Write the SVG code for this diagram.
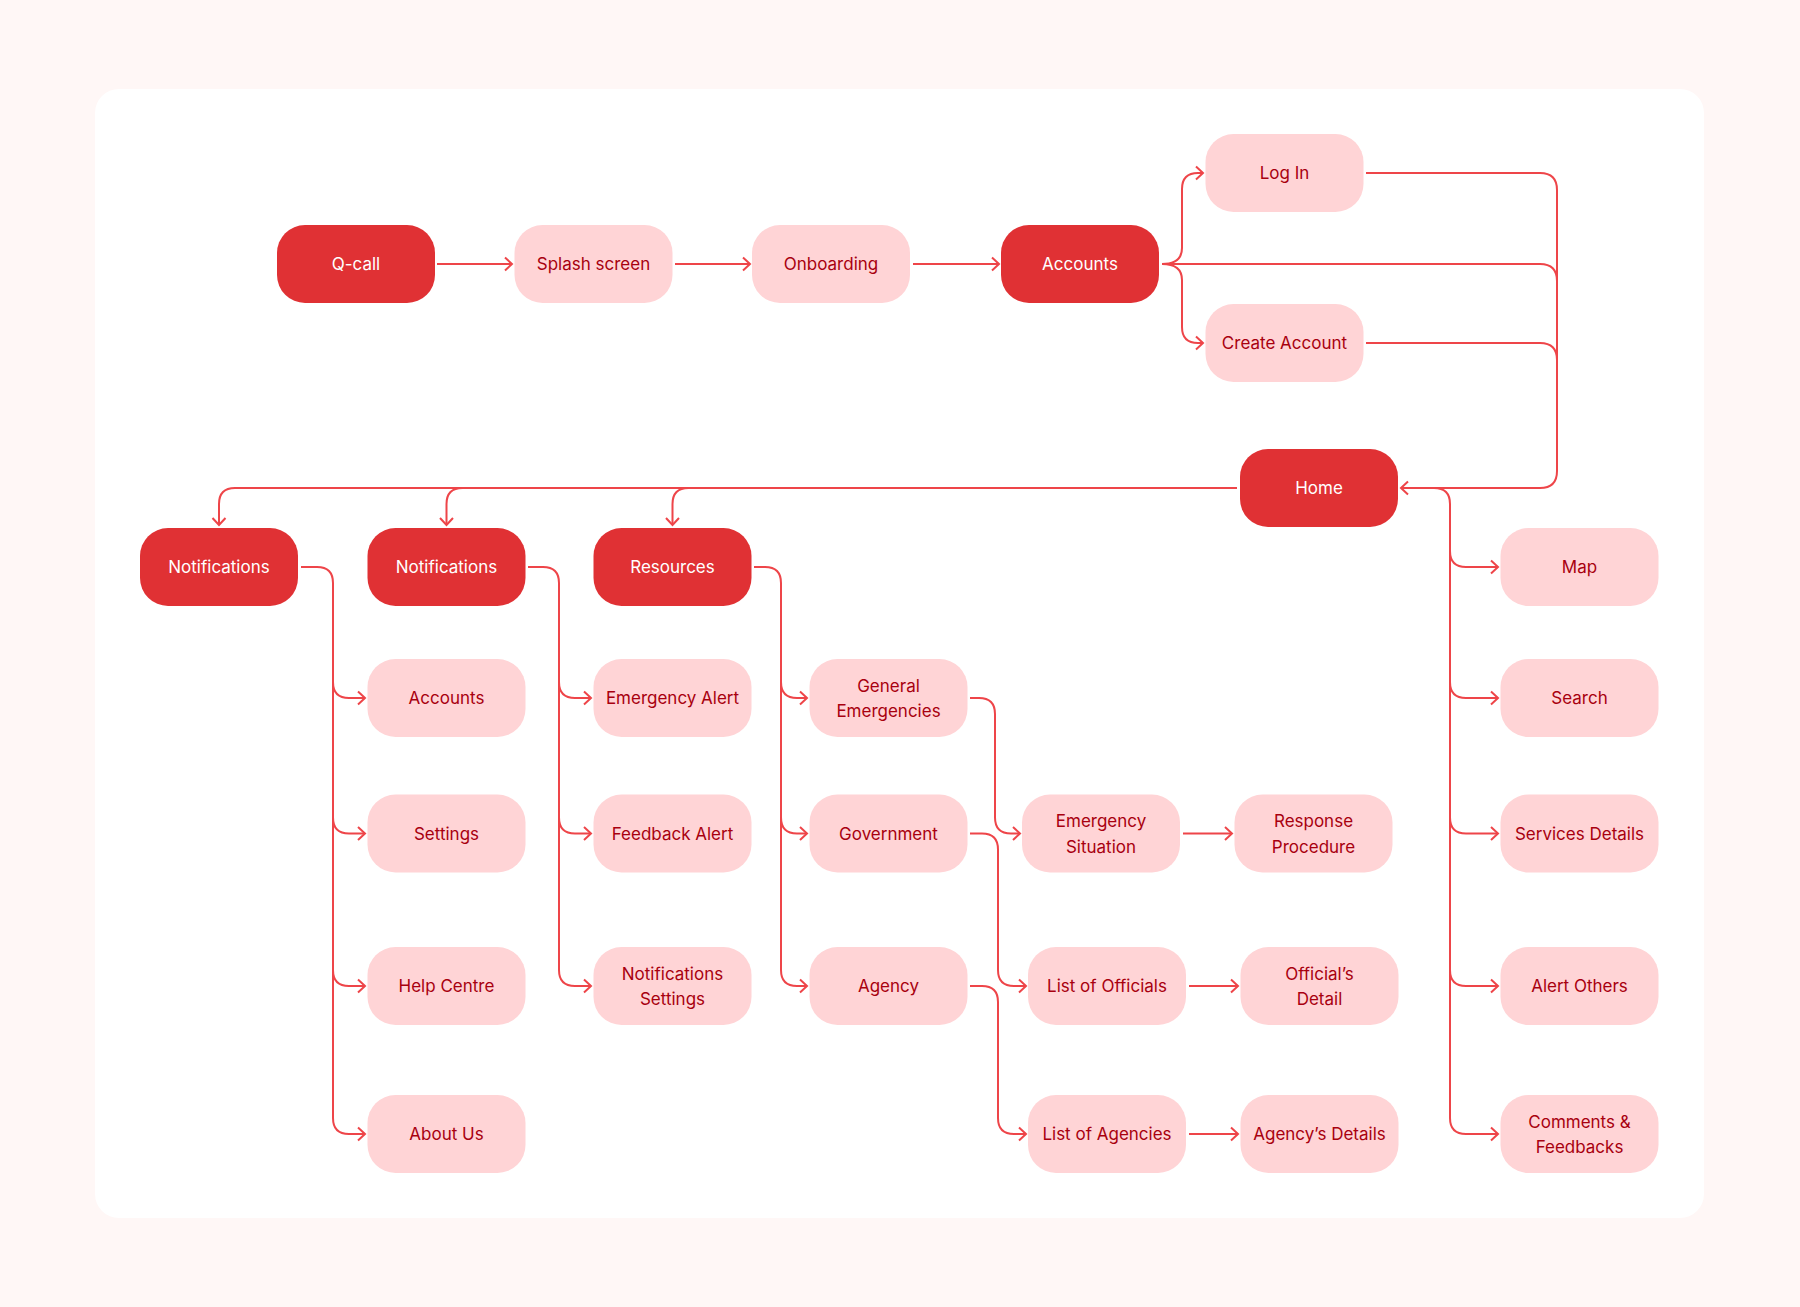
<svg xmlns="http://www.w3.org/2000/svg" width="1800" height="1307" viewBox="0 0 1800 1307">
<style>
.bg{fill:#FFF7F6}
.panel{fill:#FFFFFF}
.dark rect{fill:#E03134}
.light rect{fill:#FFD4D6}
text{font-family:Inter,"Liberation Sans",sans-serif;font-size:17px;font-weight:400;text-anchor:middle;dominant-baseline:central}
.dark text{fill:#FFFFFF}
.light text{fill:#A8000F}
.conn path{fill:none;stroke:#EE4549;stroke-width:2;marker-end:url(#arr)}
.conn path.nm{marker-end:none}
</style>
<defs>
<marker id="arr" markerUnits="userSpaceOnUse" markerWidth="14" markerHeight="16" refX="9" refY="8" orient="auto">
<path d="M2,1.5 L9,8 L2,14.5" fill="none" stroke="#EE4549" stroke-width="2"/>
</marker>
</defs>
<rect class="bg" x="0" y="0" width="1800" height="1307"/>
<rect class="panel" x="95" y="89" width="1609" height="1129" rx="24"/>

<g id="connectors" class="conn">
<path d="M437,264 H512"/>
<path d="M675,264 H750"/>
<path d="M913,264 H999"/>
<path d="M1162,264 Q1182,264 1182,248 V189 Q1182,173 1198,173 H1203"/>
<path d="M1162,264 Q1182,264 1182,280 V327 Q1182,343 1198,343 H1203"/>
<path class="nm" d="M1162,264 H1540 Q1557,264 1557,281"/>
<path class="nm" d="M1366,343 H1540 Q1557,343 1557,360"/>
<path d="M1366,173 H1540 Q1557,173 1557,190 V471 Q1557,488 1540,488 H1401"/>
<path d="M1237,488 H235 Q219,488 219,504 V525"/>
<path d="M462.5,488 Q446.5,488 446.5,504 V525"/>
<path d="M688.5,488 Q672.5,488 672.5,504 V525"/>
<path d="M1401,488 H1434 Q1450,488 1450,504 V1118 Q1450,1134 1466,1134 H1498"/>
<path d="M1450,551 Q1450,567 1466,567 H1498"/>
<path d="M1450,682 Q1450,698 1466,698 H1498"/>
<path d="M1450,817.5 Q1450,833.5 1466,833.5 H1498"/>
<path d="M1450,970 Q1450,986 1466,986 H1498"/>
<path d="M301,567 H317 Q333,567 333,583 V1118 Q333,1134 349,1134 H365"/>
<path d="M333,682 Q333,698 349,698 H365"/>
<path d="M333,817.5 Q333,833.5 349,833.5 H365"/>
<path d="M333,970 Q333,986 349,986 H365"/>
<path d="M528,567 H543 Q559,567 559,583 V970 Q559,986 575,986 H591"/>
<path d="M559,682 Q559,698 575,698 H591"/>
<path d="M559,817.5 Q559,833.5 575,833.5 H591"/>
<path d="M754,567 H765 Q781,567 781,583 V970 Q781,986 797,986 H807"/>
<path d="M781,682 Q781,698 797,698 H807"/>
<path d="M781,817.5 Q781,833.5 797,833.5 H807"/>
<path d="M970,698 H979 Q995,698 995,714 V817.5 Q995,833.5 1011,833.5 H1020"/>
<path d="M970,833.5 H982 Q998,833.5 998,849.5 V970 Q998,986 1014,986 H1026"/>
<path d="M970,986 H982 Q998,986 998,1002 V1118 Q998,1134 1014,1134 H1026"/>
<path d="M1183,833.5 H1232"/>
<path d="M1189,986 H1238"/>
<path d="M1189,1134 H1238"/>
</g>

<g id="n-qcall" class="dark"><rect x="277" y="225" width="158" height="78" rx="28"/><text x="356" y="264">Q-call</text></g>
<g id="n-splash" class="light"><rect x="514.5" y="225" width="158" height="78" rx="28"/><text x="593.5" y="264">Splash screen</text></g>
<g id="n-onboarding" class="light"><rect x="752" y="225" width="158" height="78" rx="28"/><text x="831" y="264">Onboarding</text></g>
<g id="n-accounts" class="dark"><rect x="1001" y="225" width="158" height="78" rx="28"/><text x="1080" y="264">Accounts</text></g>
<g id="n-login" class="light"><rect x="1205.5" y="134" width="158" height="78" rx="28"/><text x="1284.5" y="173">Log In</text></g>
<g id="n-create" class="light"><rect x="1205.5" y="304" width="158" height="78" rx="28"/><text x="1284.5" y="343">Create Account</text></g>
<g id="n-home" class="dark"><rect x="1240" y="449" width="158" height="78" rx="28"/><text x="1319" y="488">Home</text></g>

<g id="n-notif1" class="dark"><rect x="140" y="528" width="158" height="78" rx="28"/><text x="219" y="567">Notifications</text></g>
<g id="n-notif2" class="dark"><rect x="367.5" y="528" width="158" height="78" rx="28"/><text x="446.5" y="567">Notifications</text></g>
<g id="n-resources" class="dark"><rect x="593.5" y="528" width="158" height="78" rx="28"/><text x="672.5" y="567">Resources</text></g>

<g id="n-acc2" class="light"><rect x="367.5" y="659" width="158" height="78" rx="28"/><text x="446.5" y="698">Accounts</text></g>
<g id="n-settings" class="light"><rect x="367.5" y="794.5" width="158" height="78" rx="28"/><text x="446.5" y="833.5">Settings</text></g>
<g id="n-help" class="light"><rect x="367.5" y="947" width="158" height="78" rx="28"/><text x="446.5" y="986">Help Centre</text></g>
<g id="n-about" class="light"><rect x="367.5" y="1095" width="158" height="78" rx="28"/><text x="446.5" y="1134">About Us</text></g>

<g id="n-ealert" class="light"><rect x="593.5" y="659" width="158" height="78" rx="28"/><text x="672.5" y="698">Emergency Alert</text></g>
<g id="n-falert" class="light"><rect x="593.5" y="794.5" width="158" height="78" rx="28"/><text x="672.5" y="833.5">Feedback Alert</text></g>
<g id="n-nsettings" class="light"><rect x="593.5" y="947" width="158" height="78" rx="28"/><text x="672.5" y="973.5">Notifications</text><text x="672.5" y="999">Settings</text></g>

<g id="n-genemerg" class="light"><rect x="809.5" y="659" width="158" height="78" rx="28"/><text x="888.5" y="685.5">General</text><text x="888.5" y="711">Emergencies</text></g>
<g id="n-government" class="light"><rect x="809.5" y="794.5" width="158" height="78" rx="28"/><text x="888.5" y="833.5">Government</text></g>
<g id="n-agency" class="light"><rect x="809.5" y="947" width="158" height="78" rx="28"/><text x="888.5" y="986">Agency</text></g>

<g id="n-esituation" class="light"><rect x="1022" y="794.5" width="158" height="78" rx="28"/><text x="1101" y="821">Emergency</text><text x="1101" y="846.5">Situation</text></g>
<g id="n-response" class="light"><rect x="1234.5" y="794.5" width="158" height="78" rx="28"/><text x="1313.5" y="821">Response</text><text x="1313.5" y="846.5">Procedure</text></g>
<g id="n-listoff" class="light"><rect x="1028" y="947" width="158" height="78" rx="28"/><text x="1107" y="986">List of Officials</text></g>
<g id="n-offdetail" class="light"><rect x="1240.5" y="947" width="158" height="78" rx="28"/><text x="1319.5" y="973.5">Official’s</text><text x="1319.5" y="999">Detail</text></g>
<g id="n-listag" class="light"><rect x="1028" y="1095" width="158" height="78" rx="28"/><text x="1107" y="1134">List of Agencies</text></g>
<g id="n-agdetails" class="light"><rect x="1240.5" y="1095" width="158" height="78" rx="28"/><text x="1319.5" y="1134">Agency’s Details</text></g>

<g id="n-map" class="light"><rect x="1500.5" y="528" width="158" height="78" rx="28"/><text x="1579.5" y="567">Map</text></g>
<g id="n-search" class="light"><rect x="1500.5" y="659" width="158" height="78" rx="28"/><text x="1579.5" y="698">Search</text></g>
<g id="n-services" class="light"><rect x="1500.5" y="794.5" width="158" height="78" rx="28"/><text x="1579.5" y="833.5">Services Details</text></g>
<g id="n-alertothers" class="light"><rect x="1500.5" y="947" width="158" height="78" rx="28"/><text x="1579.5" y="986">Alert Others</text></g>
<g id="n-comments" class="light"><rect x="1500.5" y="1095" width="158" height="78" rx="28"/><text x="1579.5" y="1121.5">Comments &amp;</text><text x="1579.5" y="1147">Feedbacks</text></g>
</svg>
